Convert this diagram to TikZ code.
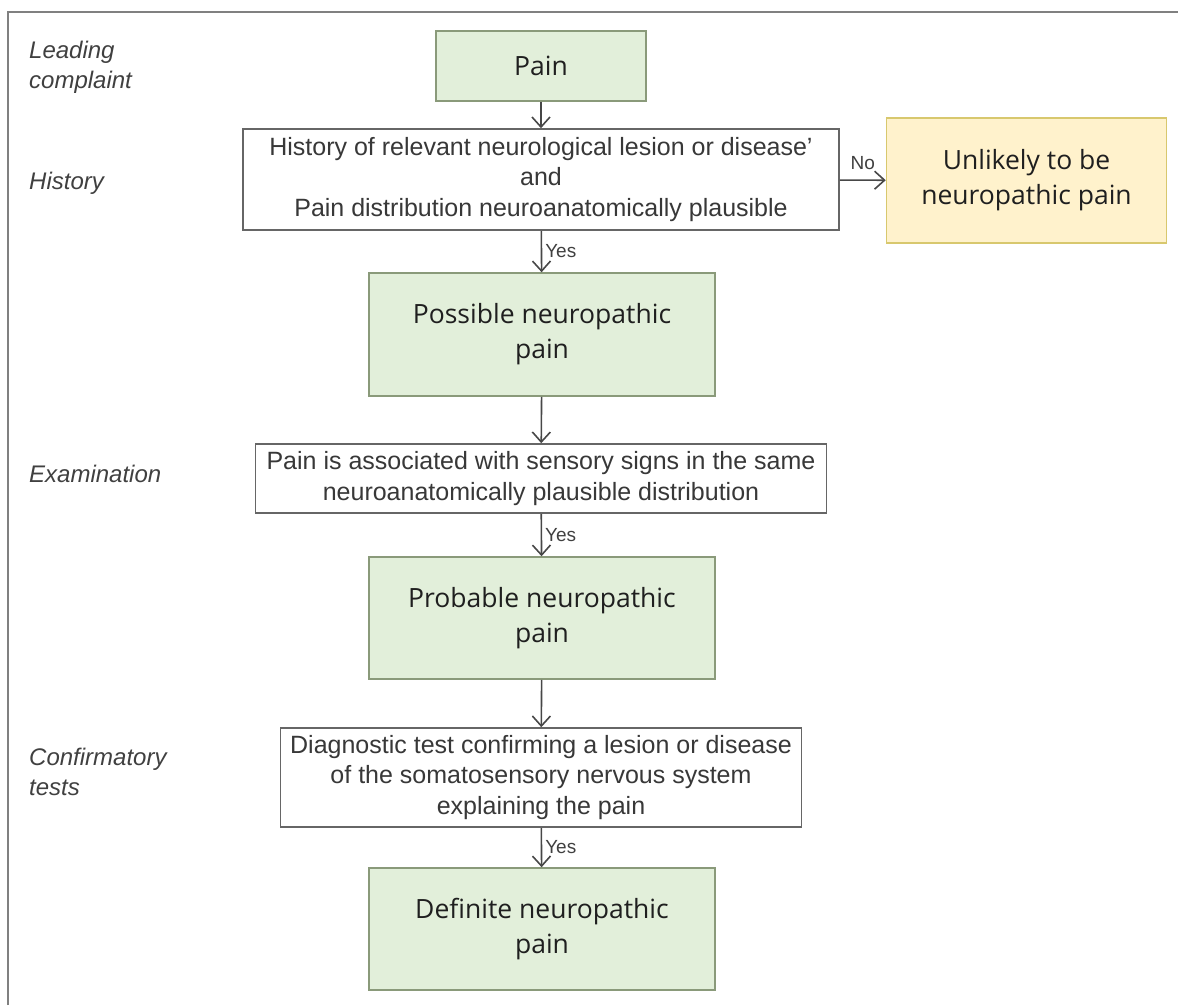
\documentclass[tikz,border=0pt]{standalone}
\usepackage{fontspec}
\setmainfont{Liberation Sans}
\newfontfamily\boxfont{Open Sans}
\usepackage{tikz}
\usetikzlibrary{arrows.meta}
\definecolor{greenfill}{HTML}{E2EFDA}
\definecolor{greenline}{HTML}{8A9A7A}
\definecolor{yellowfill}{HTML}{FFF2CC}
\definecolor{yellowline}{HTML}{D8C86E}
\definecolor{framegray}{HTML}{808080}
\tikzset{
	greenbox/.style={draw=greenline, fill=greenfill, line width=1.5pt, inner sep=0pt, align=center, text=black!88, font=\boxfont\fontsize{26.5}{35}\selectfont},
	yellowbox/.style={greenbox, draw=yellowline, fill=yellowfill},
	whitebox/.style={draw=black!60, fill=white, line width=1.6pt, inner sep=0pt, align=center, text=black!78, font=\fontsize{25}{30.5}\selectfont},
	stagelbl/.style={anchor=west, align=left, inner sep=0pt, text=black!75, font=\itshape\fontsize{24}{30}\selectfont},
	answer/.style={inner sep=3pt, text=black!75, font=\fontsize{19}{20}\selectfont},
	flow/.style={draw=black!72, line width=1.6pt, -{Straight Barb[length=10pt, width=18pt, line width=1.6pt]}}
}

\begin{document}
\begin{tikzpicture}[x=1pt, y=-1pt]
		%%%%% START %%%%%
		\useasboundingbox (0,0) rectangle (1178,1005);
		\draw[framegray, line width=2.5pt] (8,1005) -- (8,12) -- (1178,12);
		
		% stages on the left
		\node[stagelbl] (lblLead) at (29,67) {Leading\\complaint};
		\node[stagelbl] (lblHist) at (29,183) {History};
		\node[stagelbl] (lblExam) at (29,474) {Examination};
		\node[stagelbl] (lblConf) at (29,772) {Confirmatory\\tests};
		
		% boxes
		\node[greenbox, minimum width=210, minimum height=70] (pain) at (541,66) {Pain};
		\node[whitebox, minimum width=596, minimum height=101] (hist) at (541,179.5) {History of relevant neurological lesion or disease'\\and\\Pain distribution neuroanatomically plausible};
		\node[yellowbox, minimum width=280, minimum height=125] (unlikely) at (1026.5,180.5) {Unlikely to be\\neuropathic pain};
		\node[greenbox, minimum width=346, minimum height=123] (possible) at (542,334.5) {Possible neuropathic\\pain};
		
		\node[whitebox, minimum width=571, minimum height=69] (exam) at (541,478.5) {Pain is associated with sensory signs in the same\\neuroanatomically plausible distribution};
		\node[greenbox, minimum width=346, minimum height=122] (probable) at (542,618) {Probable neuropathic\\pain};
		
		\node[whitebox, minimum width=521, minimum height=99] (diag) at (541,777.5) {Diagnostic test confirming a lesion or disease\\of the somatosensory nervous system\\explaining the pain};
		\node[greenbox, minimum width=346, minimum height=122] (definite) at (542,929) {Definite neuropathic\\pain};
		
		% arrows
		\draw[flow] (pain) -- (hist);
		\draw[flow] (hist) -- node[answer, above=7pt] {No} (unlikely);
		\draw[flow] (hist) -- node[answer, right] {Yes} (possible);
		\draw[flow] (possible) -- (exam);
		\draw[flow] (exam) -- node[answer, right] {Yes} (probable);
		\draw[flow] (probable) -- (diag);
		\draw[flow] (diag) -- node[answer, right] {Yes} (definite);
		
		%%%%% END %%%%%
\end{tikzpicture}
\end{document}
